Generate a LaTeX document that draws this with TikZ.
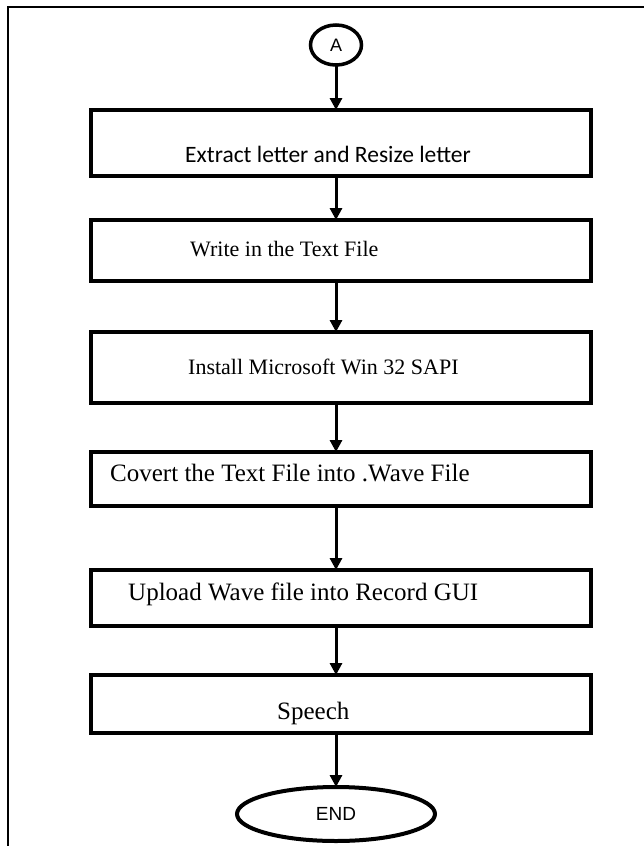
\documentclass[tikz,border=0pt]{standalone}
\usepackage{fontspec}
\setmainfont{Liberation Serif}
\newfontfamily\calibrifont{Carlito}
\newfontfamily\arialfont{Liberation Sans}
\usetikzlibrary{arrows.meta,shapes.geometric}

\begin{document}
\begin{tikzpicture}[x=1pt,y=-1pt,
  stepbox/.style={draw, line width=4pt, minimum width=500pt, inner sep=0pt, outer sep=0pt},
  flow/.style={line width=3pt, -{Triangle[width=12pt,length=12pt]}},
  lbl/.style={anchor=base west, inner sep=0pt},
  serifbig/.style={font=\fontsize{25}{29}\selectfont},
  serifmid/.style={font=\fontsize{22}{26}\selectfont},
  terminal/.style={draw, ellipse, line width=4pt, inner sep=0pt, outer sep=0pt},
]
\useasboundingbox (0,0) rectangle (644,846);
\fill[white] (0,0) rectangle (644,846);
% frame (left and top edges only)
\draw[line width=2pt] (8,846) -- (8,7) -- (644,7);

% connector and terminal
\node[terminal, line width=3.5pt, minimum width=51pt, minimum height=40pt,
      font=\arialfont\fontsize{18}{21}\selectfont] (A) at (336,45) {A};
\node[terminal, minimum width=198pt, minimum height=54pt,
      font=\arialfont\fontsize{19}{22}\selectfont] (end) at (336,814) {END};

% process boxes
\node[stepbox, minimum height=66pt] (b1) at (341,143) {};
\node[stepbox, minimum height=61pt] (b2) at (341,250.5) {};
\node[stepbox, minimum height=71pt] (b3) at (341,367.5) {};
\node[stepbox, minimum height=54pt] (b4) at (341,479) {};
\node[stepbox, minimum height=56pt] (b5) at (341,598) {};
\node[stepbox, minimum height=58pt] (b6) at (341,704) {};

% box texts
\node[lbl, font=\calibrifont\fontsize{23.5}{28}\selectfont] (t1) at (185,162) {Extract letter and Resize letter};
\node[lbl, serifmid] (t2) at (190,256) {Write in the Text File};
\node[lbl, serifmid] (t3) at (188,374) {Install Microsoft Win 32 SAPI};
\node[lbl, serifbig] (t4) at (110,481) {Covert the Text File into .Wave File};
\node[lbl, serifbig] (t5) at (128,600) {Upload Wave file into Record GUI};
\node[lbl, serifbig] (t6) at (277,719) {Speech};

% flow arrows
\draw[flow] (A.south) -- (A.south |- b1.north);
\draw[flow] (A.south |- b1.south) -- (A.south |- b2.north);
\draw[flow] (A.south |- b2.south) -- (A.south |- b3.north);
\draw[flow] (A.south |- b3.south) -- (A.south |- b4.north);
\draw[flow] (A.south |- b4.south) -- (A.south |- b5.north);
\draw[flow] (A.south |- b5.south) -- (A.south |- b6.north);
\draw[flow] (A.south |- b6.south) -- (end.north);
\end{tikzpicture}
\end{document}
